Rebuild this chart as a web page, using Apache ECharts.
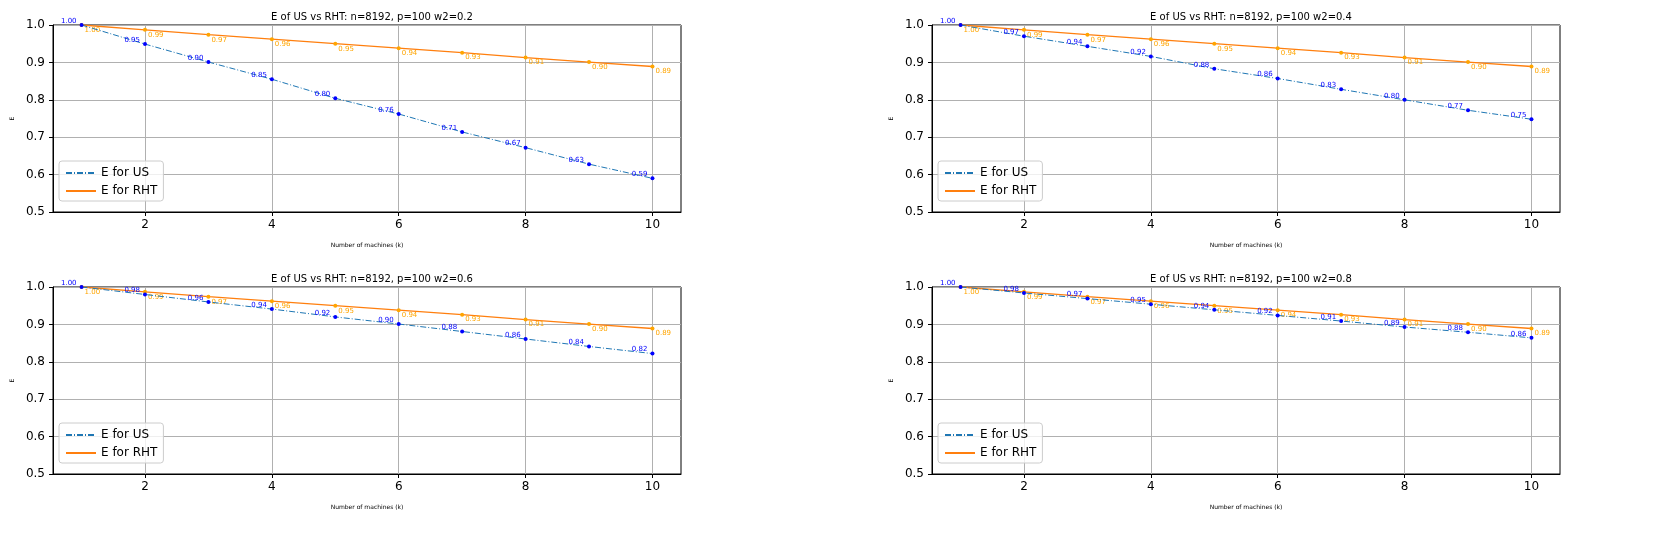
<!DOCTYPE html>
<html>
<head>
<meta charset="utf-8">
<script src="https://cdn.jsdelivr.net/npm/echarts@6/dist/echarts.min.js"></script>
<style>html,body{margin:0;padding:0;background:#fff}#main{width:1659px;height:549px}</style>
</head>
<body>
<div id="main"></div>
<script>
// machines k
const machines = [1, 2, 3, 4, 5, 6, 7, 8, 9, 10];
const w2List = ['0.2', '0.4', '0.6', '0.8'];
const usValues = [
  [1.000, 0.949, 0.901, 0.855, 0.804, 0.762, 0.714, 0.672, 0.628, 0.590],
  [1.000, 0.970, 0.943, 0.916, 0.883, 0.857, 0.828, 0.800, 0.772, 0.748],
  [1.000, 0.980, 0.960, 0.941, 0.920, 0.901, 0.881, 0.861, 0.841, 0.822],
  [1.000, 0.984, 0.969, 0.954, 0.939, 0.924, 0.909, 0.893, 0.879, 0.864]
];
const rhtValues = [1.000, 0.987, 0.974, 0.962, 0.950, 0.938, 0.926, 0.913, 0.901, 0.889];
const xTicks = [2, 4, 6, 8, 10];

const chart = echarts.init(document.getElementById('main'));
const pos = [
  { left: 53, top: 25 }, { left: 932, top: 25 },
  { left: 53, top: 287 }, { left: 932, top: 287 }
];
const W = 628, H = 187;

let grid = [], xAxis = [], yAxis = [], series = [], title = [], legend = [];
pos.forEach((p, i) => {
  grid.push({ left: p.left, top: p.top, width: W, height: H, show: true, borderColor: '#000', borderWidth: 1 });
  title.push({
    text: 'E of US vs RHT: n=8192, p=100 w2=' + w2List[i],
    left: p.left + W / 2, top: p.top - 18, textAlign: 'center',
    textStyle: { fontSize: 10, fontWeight: 'normal', fontFamily: 'DejaVu Sans', color: '#000' }
  });
  xAxis.push({
    type: 'value', gridIndex: i, min: 0.55, max: 10.45,
    name: 'Number of machines (k)', nameLocation: 'middle', nameGap: 30,
    nameTextStyle: { fontSize: 6, fontFamily: 'DejaVu Sans', color: '#000' },
    axisLine: { onZero: false, lineStyle: { color: '#000' } },
    axisTick: { show: true, customValues: xTicks, length: 4, lineStyle: { color: '#000' } },
    axisLabel: { customValues: xTicks, fontSize: 12, fontFamily: 'DejaVu Sans', color: '#000', margin: 7 },
    splitLine: { show: true, lineStyle: { color: '#b0b0b0' } }
  });
  yAxis.push({
    type: 'value', gridIndex: i, min: 0.5, max: 1.0, interval: 0.1,
    name: 'E', nameLocation: 'middle', nameGap: 38,
    nameTextStyle: { fontSize: 6, fontFamily: 'DejaVu Sans', color: '#000' },
    axisLine: { show: true, lineStyle: { color: '#000' } },
    axisTick: { show: true, length: 4, lineStyle: { color: '#000' } },
    axisLabel: { formatter: v => v.toFixed(1), fontSize: 12, fontFamily: 'DejaVu Sans', color: '#000' },
    splitLine: { show: true, lineStyle: { color: '#b0b0b0' } }
  });
  series.push({
    name: 'US' + i, type: 'line', xAxisIndex: i, yAxisIndex: i,
    data: machines.map((k, j) => [k, usValues[i][j]]),
    lineStyle: { color: '#1f77b4', width: 1, type: [6, 2, 1, 2] },
    itemStyle: { color: 'blue' }, symbol: 'circle', symbolSize: 4,
    label: { show: true, formatter: d => d.value[1].toFixed(2), position: 'left', offset: [2, -4], fontSize: 7, color: 'blue', fontFamily: 'DejaVu Sans' },
    z: 3
  });
  series.push({
    name: 'RHT' + i, type: 'line', xAxisIndex: i, yAxisIndex: i,
    data: machines.map((k, j) => [k, rhtValues[j]]),
    lineStyle: { color: '#ff7f0e', width: 1.3 },
    itemStyle: { color: 'orange' }, symbol: 'circle', symbolSize: 4,
    label: { show: true, formatter: d => d.value[1].toFixed(2), position: 'right', offset: [-4, 5], fontSize: 7, color: 'orange', fontFamily: 'DejaVu Sans' },
    z: 2
  });
  legend.push({
    data: ['US' + i, 'RHT' + i], orient: 'vertical',
    left: p.left + 6, top: p.top + H - 51,
    formatter: n => n.startsWith('US') ? 'E for US' : 'E for RHT',
    itemWidth: 30, itemHeight: 10, itemGap: 6, padding: [6, 6, 4, 6],
    borderColor: '#ccc', borderWidth: 1, borderRadius: 3, backgroundColor: 'rgba(255,255,255,0.8)',
    itemStyle: { opacity: 0 },
    textStyle: { fontSize: 12, fontFamily: 'DejaVu Sans', color: '#000' }
  });
});

chart.setOption({ animation: false, title, grid, xAxis, yAxis, series, legend });
</script>
</body>
</html>
